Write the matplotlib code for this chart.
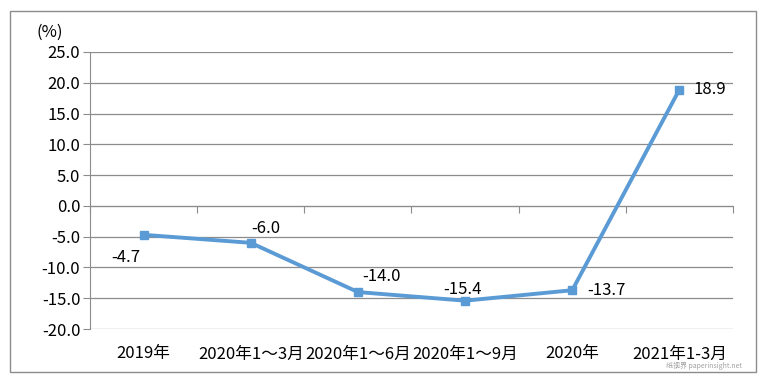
import matplotlib
matplotlib.use("Agg")
import matplotlib.pyplot as plt
from matplotlib.patches import Rectangle
import matplotlib.transforms as mtransforms

plt.rcParams['font.family'] = ['Noto Sans CJK SC', 'DejaVu Sans']

categories = ["2019年", "2020年1～3月", "2020年1～6月", "2020年1～9月", "2020年", "2021年1-3月"]
values = [-4.7, -6.0, -14.0, -15.4, -13.7, 18.9]
yticks = [25.0, 20.0, 15.0, 10.0, 5.0, 0.0, -5.0, -10.0, -15.0, -20.0]

line_color = "#5B9BD5"
grid_color = "#8C8C8C"
fs = 12

fig = plt.figure(figsize=(7.68, 3.83), dpi=100)
fig.patches.append(Rectangle((10/768, 1-372/383), (756-10)/768, (372-11)/383,
                             transform=fig.transFigure, fill=False,
                             edgecolor="#8C8C8C", linewidth=1.0))
ax = fig.add_axes([90/768, 1-329/383, (733-90)/768, (329-52)/383])

xs = list(range(len(categories)))
ax.plot(xs, values, color=line_color, linewidth=2.8, marker='s', markersize=6,
        markerfacecolor=line_color, markeredgecolor=line_color, zorder=3)

ax.set_xlim(-0.5, len(categories) - 0.5)
ax.set_ylim(-20, 25)
ax.set_yticks(yticks)
ax.set_yticklabels([f"{v:.1f}" for v in yticks], fontsize=fs)
for v in yticks:
    ax.axhline(v, color=grid_color, linewidth=0.9, zorder=1)

for s in ['top', 'right']:
    ax.spines[s].set_visible(False)
ax.spines['left'].set_color(grid_color)
ax.spines['bottom'].set_color(grid_color)
ax.spines['bottom'].set_position(('data', 0))
ax.set_xticks([i - 0.5 for i in range(len(categories) + 1)])
ax.set_xticklabels([])
ax.tick_params(axis='x', direction='out', length=5, color=grid_color)
ax.tick_params(axis='y', direction='out', length=5, color=grid_color, pad=2)

trans = mtransforms.blended_transform_factory(ax.transData, ax.transAxes)
for i, c in enumerate(categories):
    ax.text(i, -0.09, c, transform=trans, ha='center', va='center', fontsize=fs)

# data labels
offsets = [(-13, -16, 'center'), (11, 10, 'center'), (17, 11, 'center'), (-2, 8, 'center'),
           (11, 0, 'left'), (10, 0, 'left')]
for i, (v, (dx, dy, ha)) in enumerate(zip(values, offsets)):
    ax.annotate(f"{v:.1f}", (i, v), xytext=(dx, dy), textcoords='offset points',
                ha=ha, va='center', fontsize=fs)

fig.text(50/768, 1-32/383, "(%)", ha='center', va='center', fontsize=fs)

fig.text(742/768, 1-366/383, "纸视界 paperinsight.net", ha='right', va='center', fontsize=5, color="#A0A0A0")

fig.savefig("out.png", dpi=100)
